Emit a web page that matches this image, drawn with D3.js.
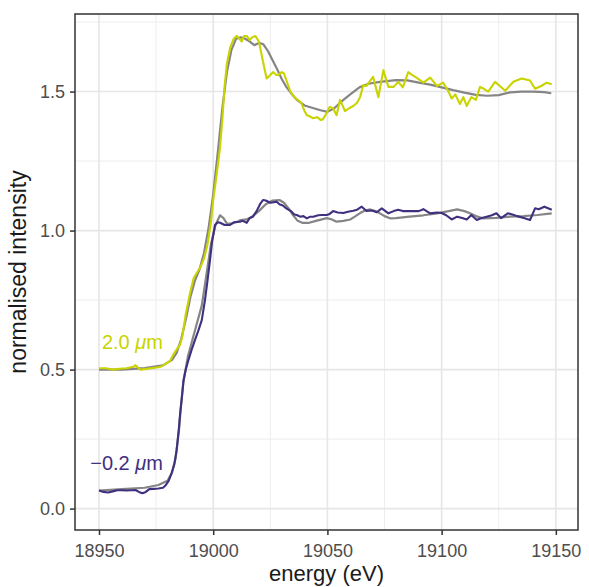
<!DOCTYPE html>
<html>
<head>
<meta charset="utf-8">
<script src="https://cdn.jsdelivr.net/npm/d3@7"></script>
<style>
  html, body { margin: 0; padding: 0; background: #fff; }
  svg { display: block; font-family: "Liberation Sans", Arial, Helvetica, sans-serif; }
</style>
</head>
<body>
<svg id="chart" width="589" height="587"></svg>
<script>
// ---------- data ----------
const xTicks = [18950, 19000, 19050, 19100, 19150];
const yTicks = [0.0, 0.5, 1.0, 1.5];
const xMinor = [18975, 19025, 19075, 19125];
const yMinor = [0.25, 0.75, 1.25, 1.75];

// 2.0 µm measured spectrum: [energy, intensity]
const highMeasured = [
  [18950,0.505],[18953,0.505],[18956,0.500],[18959,0.503],[18962,0.505],[18965,0.510],[18966,0.516],
  [18968,0.500],[18971,0.503],[18974,0.506],[18977,0.510],[18979,0.520],[18981,0.530],[18983,0.560],
  [18985.5,0.590],[18986.5,0.620],[18988,0.700],[18990,0.780],[18991.5,0.830],[18993,0.850],
  [18994.5,0.870],[18996,0.900],[18997.5,0.950],[18999,1.030],[19000,1.110],[19001.5,1.200],
  [19003,1.300],[19004,1.400],[19005,1.520],[19006,1.600],[19007.5,1.660],[19009,1.690],
  [19010.3,1.700],[19011.5,1.690],[19012.5,1.680],[19013.5,1.700],[19014.7,1.700],[19016,1.685],
  [19017,1.695],[19018.5,1.700],[19020,1.680],[19021,1.640],[19022.5,1.580],[19023.4,1.547],
  [19025,1.560],[19026.3,1.570],[19027.5,1.560],[19028.5,1.560],[19030,1.570],[19031,1.565],
  [19032.5,1.530],[19033.8,1.500],[19035.5,1.480],[19037,1.470],[19038.5,1.460],[19040,1.430],
  [19041,1.415],[19042.5,1.410],[19043.7,1.404],[19045.5,1.408],[19047,1.398],[19048,1.400],
  [19049.5,1.420],[19051,1.445],[19052.5,1.440],[19054,1.415],[19055.5,1.470],[19057.7,1.430],
  [19059.5,1.440],[19061.3,1.448],[19063,1.460],[19064.3,1.480],[19065.7,1.523],[19067,1.520],
  [19068,1.530],[19070,1.553],[19072.3,1.480],[19074.5,1.577],[19076.7,1.517],[19079,1.517],
  [19081,1.535],[19083,1.515],[19085.4,1.570],[19087,1.560],[19089,1.550],[19092,1.532],
  [19095,1.550],[19098,1.520],[19100.7,1.532],[19103,1.500],[19104.4,1.475],[19106,1.490],
  [19108,1.455],[19109.5,1.480],[19111,1.448],[19113,1.480],[19115,1.470],[19116.8,1.517],
  [19118.5,1.510],[19120.4,1.500],[19123.4,1.535],[19125.5,1.520],[19127.8,1.503],[19131.4,1.535],
  [19135,1.547],[19138.7,1.540],[19140.9,1.510],[19143.6,1.520],[19146,1.532],[19148.2,1.526]
];

// 2.0 µm fitted spectrum
const highFit = [
  [18950,0.500],[18960,0.500],[18970,0.505],[18978,0.515],[18982,0.535],[18984,0.560],[18986,0.610],
  [18988,0.680],[18990,0.760],[18992,0.820],[18994,0.860],[18996,0.920],[18998,1.010],[19000,1.130],
  [19002,1.280],[19004,1.440],[19006,1.570],[19008,1.650],[19010,1.690],[19012,1.695],[19014,1.690],
  [19016,1.680],[19018,1.667],[19020,1.675],[19022,1.670],[19024,1.645],[19026,1.613],[19028,1.580],
  [19030,1.545],[19032,1.517],[19034,1.495],[19036.6,1.470],[19040,1.450],[19044,1.440],[19047,1.433],
  [19050,1.427],[19053,1.440],[19057,1.470],[19060,1.490],[19064,1.515],[19068,1.528],[19073,1.535],
  [19080,1.541],[19085,1.540],[19090,1.532],[19095,1.525],[19100,1.515],[19105,1.505],[19110,1.496],
  [19115,1.488],[19120,1.485],[19125,1.487],[19130,1.497],[19135,1.500],[19140,1.500],[19145,1.498],
  [19148,1.494]
];

// -0.2 µm measured spectrum
const lowMeasured = [
  [18950,0.065],[18952,0.060],[18954,0.058],[18956,0.062],[18958,0.066],[18960,0.066],[18962,0.065],
  [18964,0.066],[18966,0.067],[18967.5,0.060],[18969,0.055],[18970.5,0.060],[18972,0.070],[18974,0.071],
  [18976,0.072],[18978,0.075],[18979,0.082],[18980.5,0.100],[18981.8,0.128],[18983,0.160],[18984,0.210],
  [18985,0.290],[18985.5,0.340],[18986.3,0.400],[18987,0.460],[18988,0.500],[18989,0.530],[18990.5,0.570],
  [18992,0.606],[18993.5,0.640],[18995,0.678],[18996.4,0.750],[18997.5,0.820],[18998.6,0.894],
  [18999.5,0.960],[19000.8,1.020],[19002,1.030],[19003,1.028],[19005,1.020],[19007.4,1.020],[19009,1.030],
  [19011.7,1.032],[19013,1.035],[19014.7,1.028],[19016,1.045],[19017.4,1.050],[19019,1.070],
  [19020.5,1.095],[19021.8,1.110],[19023,1.108],[19025,1.100],[19027.8,1.104],[19029,1.095],
  [19030.5,1.090],[19032,1.080],[19034,1.070],[19035.5,1.058],[19036.6,1.056],[19038,1.050],
  [19039.5,1.052],[19041,1.044],[19042.5,1.050],[19043.8,1.050],[19046,1.055],[19047.5,1.056],
  [19049.7,1.056],[19051,1.060],[19052.5,1.070],[19054.5,1.065],[19057,1.063],[19059,1.068],
  [19061.3,1.071],[19063,1.075],[19065,1.086],[19067,1.071],[19069.5,1.072],[19071.6,1.066],
  [19073.8,1.080],[19076.7,1.062],[19079,1.070],[19081,1.075],[19083,1.070],[19086,1.070],[19090,1.070],
  [19092,1.077],[19095,1.062],[19098,1.065],[19100,1.063],[19102,1.055],[19104.4,1.040],[19106.8,1.050],
  [19109,1.045],[19111,1.040],[19113,1.056],[19115.4,1.038],[19117.5,1.045],[19119.7,1.050],
  [19122,1.055],[19124,1.062],[19126,1.045],[19129,1.062],[19131,1.058],[19133,1.052],[19136,1.045],
  [19138.7,1.038],[19140.9,1.080],[19142.5,1.077],[19145,1.086],[19148.2,1.075]
];

// -0.2 µm fitted spectrum
const lowFit = [
  [18950,0.065],[18960,0.070],[18970,0.075],[18976,0.085],[18980,0.100],[18982,0.130],[18983.5,0.180],
  [18985,0.280],[18986,0.380],[18987,0.460],[18989,0.550],[18991,0.610],[18993,0.670],[18995,0.730],
  [18997,0.840],[18999,0.950],[19001,1.020],[19003,1.055],[19004.5,1.045],[19006,1.025],[19008,1.025],
  [19010,1.030],[19012,1.038],[19014.7,1.040],[19017,1.050],[19020,1.070],[19023,1.095],[19026,1.108],
  [19029,1.110],[19031,1.100],[19033,1.080],[19035,1.055],[19037,1.035],[19039,1.028],[19042,1.028],
  [19045,1.035],[19049.7,1.045],[19052,1.040],[19054,1.032],[19057,1.035],[19060,1.040],[19062,1.050],
  [19064.3,1.063],[19066.5,1.072],[19068.7,1.076],[19071,1.070],[19073,1.062],[19075,1.052],
  [19077.4,1.044],[19080,1.045],[19086,1.050],[19092,1.055],[19098,1.062],[19102,1.068],[19106.8,1.076],
  [19110,1.070],[19112.4,1.062],[19115,1.052],[19118,1.044],[19124,1.046],[19130,1.050],[19136,1.052],
  [19142,1.056],[19148.2,1.062]
];

const seriesLabels = ["2.0", "\u22120.2"];
const labelAnchors = [[18978, 0.574], [18978, 0.138]];
const seriesColors = ["#c9d300", "#41307f"];
const fitColor = "#858585";

// ---------- layout ----------
const svg = d3.select("#chart");
const panel = { left: 75, right: 578, top: 14, bottom: 530 };

const x = d3.scaleLinear().domain([18939.5, 19159.7]).range([panel.left, panel.right]);
const y = d3.scaleLinear().domain([-0.077, 1.779]).range([panel.bottom, panel.top]);

// background
svg.append("rect").attr("x", panel.left).attr("y", panel.top)
  .attr("width", panel.right - panel.left).attr("height", panel.bottom - panel.top)
  .attr("fill", "#fff");

// grid
const grid = svg.append("g");
grid.selectAll(".xminor").data(xMinor).enter().append("line")
  .attr("x1", d => x(d)).attr("x2", d => x(d)).attr("y1", panel.top).attr("y2", panel.bottom)
  .attr("stroke", "#ededed").attr("stroke-width", 1);
grid.selectAll(".yminor").data(yMinor).enter().append("line")
  .attr("y1", d => y(d)).attr("y2", d => y(d)).attr("x1", panel.left).attr("x2", panel.right)
  .attr("stroke", "#ededed").attr("stroke-width", 1);
grid.selectAll(".xmajor").data(xTicks).enter().append("line")
  .attr("x1", d => x(d)).attr("x2", d => x(d)).attr("y1", panel.top).attr("y2", panel.bottom)
  .attr("stroke", "#e6e6e6").attr("stroke-width", 1.6);
grid.selectAll(".ymajor").data(yTicks).enter().append("line")
  .attr("y1", d => y(d)).attr("y2", d => y(d)).attr("x1", panel.left).attr("x2", panel.right)
  .attr("stroke", "#e6e6e6").attr("stroke-width", 1.6);

// lines
const line = d3.line().x(d => x(d[0])).y(d => y(d[1])).curve(d3.curveLinear);
const plot = svg.append("g");
[[highFit, fitColor], [lowFit, fitColor]].forEach(([data, c]) => {
  plot.append("path").datum(data).attr("d", line).attr("fill", "none")
    .attr("stroke", c).attr("stroke-width", 2.2).attr("stroke-linejoin", "round");
});
[[highMeasured, seriesColors[0]], [lowMeasured, seriesColors[1]]].forEach(([data, c]) => {
  plot.append("path").datum(data).attr("d", line).attr("fill", "none")
    .attr("stroke", c).attr("stroke-width", 2.1).attr("stroke-linejoin", "round");
});

// series labels
seriesLabels.forEach((lab, i) => {
  const t = svg.append("text")
    .attr("x", x(labelAnchors[i][0])).attr("y", y(labelAnchors[i][1]))
    .attr("text-anchor", "end").attr("font-size", 20).attr("fill", seriesColors[i]);
  t.append("tspan").text(lab + " ");
  t.append("tspan").attr("font-style", "italic").text("\u03bc");
  t.append("tspan").text("m");
});

// axes
const xAxis = svg.append("g").attr("transform", `translate(0,${panel.bottom})`)
  .call(d3.axisBottom(x).tickValues(xTicks).tickFormat(d3.format("d")).tickSize(5).tickPadding(9));
const yAxis = svg.append("g").attr("transform", `translate(${panel.left},0)`)
  .call(d3.axisLeft(y).tickValues(yTicks).tickFormat(d3.format(".1f")).tickSize(5).tickPadding(5));
[xAxis, yAxis].forEach(a => {
  a.select(".domain").remove();
  a.selectAll(".tick line").attr("stroke", "#333").attr("stroke-width", 1.5);
  a.selectAll(".tick text").attr("fill", "#4d4d4d").attr("font-size", 18)
    .attr("font-family", "\"Liberation Sans\", Arial, Helvetica, sans-serif");
});

// panel border
svg.append("rect").attr("x", panel.left).attr("y", panel.top)
  .attr("width", panel.right - panel.left).attr("height", panel.bottom - panel.top)
  .attr("fill", "none").attr("stroke", "#333").attr("stroke-width", 1.5);

// axis titles
svg.append("text").attr("x", (panel.left + panel.right) / 2).attr("y", 581)
  .attr("text-anchor", "middle").attr("font-size", 22).attr("fill", "#1a1a1a")
  .text("energy (eV)");
svg.append("text")
  .attr("transform", `translate(26,${(panel.top + panel.bottom) / 2}) rotate(-90)`)
  .attr("text-anchor", "middle").attr("font-size", 23).attr("fill", "#1a1a1a")
  .text("normalised intensity");
</script>
</body>
</html>
